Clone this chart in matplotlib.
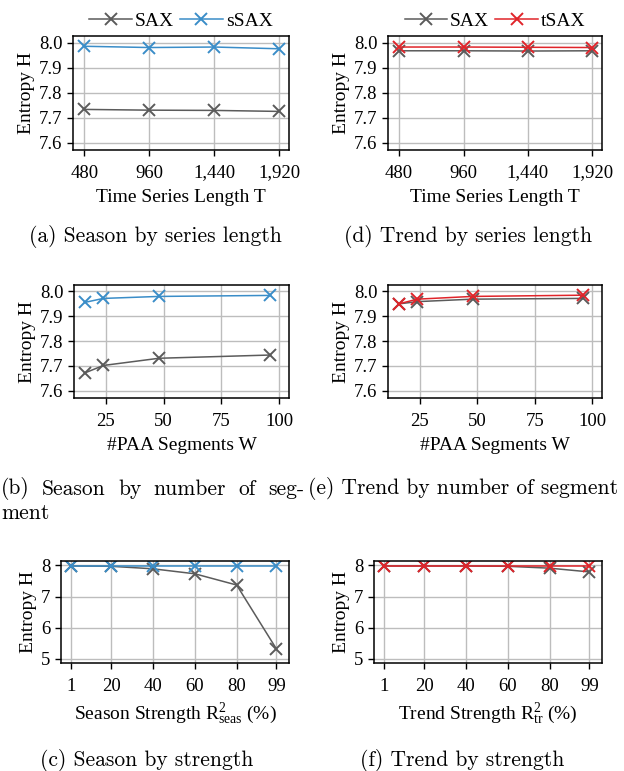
"""Entropy of SAX variants: season / trend, by length, segments and strength."""

import matplotlib
matplotlib.use("Agg")
import matplotlib.pyplot as plt
from matplotlib.ticker import FuncFormatter

plt.rcParams["font.family"] = "Liberation Serif"
plt.rcParams["mathtext.fontset"] = "custom"
plt.rcParams["mathtext.rm"] = "Liberation Serif"
plt.rcParams["mathtext.it"] = "Liberation Serif:italic"

GRAY = "#5b5b5b"
BLUE = "#3a8dc8"
RED = "#e0242a"

# series length
lengths = [480, 960, 1440, 1920]
len_sax_season = [7.733, 7.730, 7.729, 7.725]
len_ssax = [7.985, 7.980, 7.982, 7.975]
len_sax_trend = [7.967, 7.967, 7.966, 7.967]
len_tsax = [7.982, 7.982, 7.981, 7.980]

# number of PAA segments
segments = [16, 24, 48, 96]
seg_sax_season = [7.672, 7.702, 7.731, 7.744]
seg_ssax = [7.956, 7.972, 7.980, 7.984]
seg_sax_trend = [7.950, 7.959, 7.969, 7.972]
seg_tsax = [7.950, 7.969, 7.980, 7.985]

# strength
strengths = [1, 20, 40, 60, 80, 99]
str_sax_season = [7.98, 7.97, 7.89, 7.73, 7.37, 5.32]
str_ssax = [7.98, 7.98, 7.98, 7.98, 7.98, 7.98]
str_sax_trend = [7.98, 7.98, 7.98, 7.97, 7.91, 7.79]
str_tsax = [7.98, 7.98, 7.98, 7.98, 7.98, 7.98]

W, H = 624, 771
TICK_FS = 13.5
LABEL_FS = 14


def px_axes(fig, left, top, right, bottom):
    return fig.add_axes([left / W, 1 - bottom / H, (right - left) / W, (bottom - top) / H])


def style(ax):
    ax.grid(True, color="#bdbdbd", linewidth=1.0)
    ax.set_axisbelow(True)
    for s in ax.spines.values():
        s.set_linewidth(1.1)
        s.set_color("black")
    ax.tick_params(labelsize=TICK_FS, length=4.5, width=1.0, pad=3)
    ax.tick_params(axis="x", pad=6)
    ax.set_ylabel("Entropy H", fontsize=LABEL_FS, labelpad=3)


def draw(ax, x, s1, s2, c2, l2):
    ax.plot(x, s1, color=GRAY, marker="x", markersize=8, markeredgewidth=1.4,
            linewidth=1.1, label="SAX")
    ax.plot(x, s2, color=c2, marker="x", markersize=8, markeredgewidth=1.4,
            linewidth=1.1, label=l2)


fig = plt.figure(figsize=(W / 100, H / 100), dpi=100)
comma = FuncFormatter(lambda v, p: f"{int(v):,}")

# row 1: series length
for (l, r), sax, other, col, lab in [((73, 289), len_sax_season, len_ssax, BLUE, "sSAX"),
                                     ((388, 602), len_sax_trend, len_tsax, RED, "tSAX")]:
    ax = px_axes(fig, l, 36, r, 150)
    draw(ax, lengths, sax, other, col, lab)
    ax.set_xticks(lengths)
    ax.xaxis.set_major_formatter(comma)
    ax.set_xlim(397, 1992)
    ax.set_ylim(7.571, 8.026)
    ax.set_yticks([7.6, 7.7, 7.8, 7.9, 8.0])
    ax.set_xlabel("Time Series Length T", fontsize=LABEL_FS, labelpad=5)
    style(ax)
    ax.legend(loc="lower center", bbox_to_anchor=(0.5, 1.02), ncol=2, frameon=False,
              fontsize=LABEL_FS, handlelength=2.2, handletextpad=0.15, columnspacing=0.3,
              borderaxespad=0.0, borderpad=0.2)

# row 2: segments
for (l, r), sax, other, col, lab in [((74, 289), seg_sax_season, seg_ssax, BLUE, "sSAX"),
                                     ((388, 602), seg_sax_trend, seg_tsax, RED, "tSAX")]:
    ax = px_axes(fig, l, 285, r, 398)
    draw(ax, segments, sax, other, col, lab)
    ax.set_xticks([25, 50, 75, 100])
    ax.set_xlim(11.3, 104.2)
    ax.set_ylim(7.571, 8.026)
    ax.set_yticks([7.6, 7.7, 7.8, 7.9, 8.0])
    ax.set_xlabel("#PAA Segments W", fontsize=LABEL_FS, labelpad=5)
    style(ax)

# row 3: strength
for (l, r), sax, other, col, lab, xl in [
        ((61, 289), str_sax_season, str_ssax, BLUE, "sSAX",
         r"Season Strength $\mathrm{R}^2_\mathrm{seas}$ (%)"),
        ((374, 602), str_sax_trend, str_tsax, RED, "tSAX",
         r"Trend Strength $\mathrm{R}^2_\mathrm{tr}$ (%)")]:
    ax = px_axes(fig, l, 561, r, 663)
    draw(ax, strengths, sax, other, col, lab)
    ax.set_xticks(strengths)
    ax.set_xlim(-3.9, 105)
    ax.set_ylim(4.87, 8.14)
    ax.set_yticks([5, 6, 7, 8])
    ax.set_xlabel(xl, fontsize=LABEL_FS, labelpad=5)
    style(ax)

# captions
cap = dict(fontfamily="cmr10", fontsize=15.5, va="center")
fig.text(155 / W, 1 - 237 / H, "(a) Season by series length", ha="center", **cap)
fig.text(468 / W, 1 - 237 / H, "(d) Trend by series length", ha="center", **cap)

# justified first line of caption (b), spread between x=1 and x=304 px
words = ["(b)", "Season", "by", "number", "of", "seg-"]
texts = [fig.text(0, 1 - 489 / H, w, ha="left", **cap) for w in words]
renderer = fig.canvas.get_renderer()
widths = [t.get_window_extent(renderer).width for t in texts]
gap = (303 - sum(widths)) / (len(words) - 1)
x = 1.0
for t, w in zip(texts, widths):
    t.set_x(x / W)
    x += w + gap
fig.text(1 / W, 1 - 513 / H, "ment", ha="left", **cap)

fig.text(308 / W, 1 - 489 / H, "(e) Trend by number of segment", ha="left", **cap)
fig.text(147 / W, 1 - 760 / H, "(c) Season by strength", ha="center", **cap)
fig.text(462 / W, 1 - 760 / H, "(f) Trend by strength", ha="center", **cap)

fig.savefig("out.png", dpi=100)
